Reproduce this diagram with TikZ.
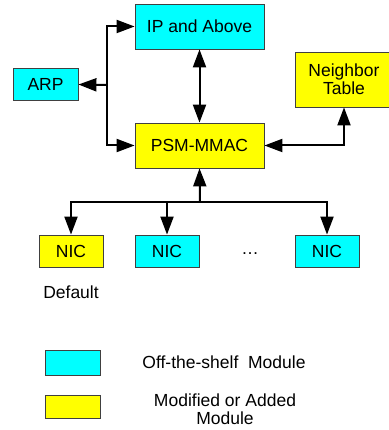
\documentclass[tikz,border=0pt]{standalone}
\usepackage{fontspec}
\setmainfont{Liberation Sans}
\usepackage{tikz}
\usetikzlibrary{arrows.meta}
\definecolor{aqua}{RGB}{0,255,255}
\definecolor{lemon}{RGB}{255,255,0}
\tikzstyle{every node}=[font=\fontsize{17.5}{20}\selectfont, align=center]
\tikzstyle{offshelf}=[rectangle, draw=black!75, line width=0.8pt, fill=aqua]
\tikzstyle{modified}=[rectangle, draw=black!75, line width=0.8pt, fill=lemon]
\tikzset{link/.style={line width=2pt, arrows={-Triangle[length=18pt,width=13pt]}}}
\tikzset{dlink/.style={line width=2pt, arrows={Triangle[length=18pt,width=13pt]-Triangle[length=18pt,width=13pt]}}}

\begin{document}
\begin{tikzpicture}[x=1pt, y=-1pt]
    \useasboundingbox (0,0) rectangle (388,430);
    \node[offshelf, minimum width=129pt, minimum height=45pt] (ip) at (199.5,26.5) {IP and Above};
    \node[offshelf, minimum width=65pt, minimum height=32pt] (arp) at (45.5,84.5) {ARP};
    \node[modified, minimum width=98pt, minimum height=55pt] (nbr) at (344,79.5) {Neighbor\\[-2pt]Table};
    \node[modified, minimum width=129pt, minimum height=45pt] (psm) at (199.5,145.5) {PSM-MMAC};
    \node[modified, minimum width=64pt, minimum height=32pt] (nicA) at (71,251) {NIC};
    \node[offshelf, minimum width=64pt, minimum height=32pt] (nicB) at (167,251) {NIC};
    \node[offshelf, minimum width=64pt, minimum height=32pt] (nicC) at (327,251) {NIC};
    \node (dots) at (250,254) {\dots};
    \node (default) at (71,292) {Default};
    % legend
    \node[offshelf, minimum width=55pt, minimum height=25pt] (keyA) at (72.5,362.5) {};
    \node[modified, minimum width=55pt, minimum height=23pt] (keyB) at (72.5,406.5) {};
    \node (textA) at (224,362) {Off-the-shelf\ \ Module};
    \node (textB) at (225,409.5) {Modified or Added\\[-2pt]Module};
    % connectors
    \coordinate (bus) at (107,85);
    \coordinate (hub) at (200,202);
    \draw[dlink] (ip.west) -| (bus) |- (psm.west);
    \draw[link] (bus) -- (arp.east);
    \draw[dlink] (ip) -- (psm);
    \draw[dlink] (psm.east) -| (nbr.south);
    \draw[link] (hub) -- (psm.south);
    \draw[link] (hub) -| (nicA.north);
    \draw[link] (hub) -| (nicB.north);
    \draw[link] (hub) -| (nicC.north);
\end{tikzpicture}
\end{document}
